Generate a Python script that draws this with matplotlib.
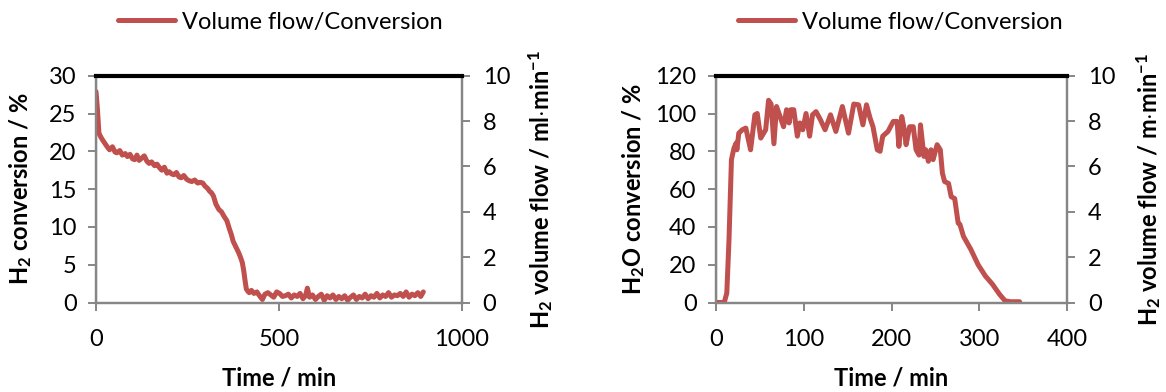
import matplotlib
matplotlib.use("Agg")
import matplotlib.pyplot as plt
from matplotlib.patches import Rectangle

plt.rcParams['font.family'] = ['Lato', 'DejaVu Sans']
plt.rcParams['mathtext.fontset'] = 'custom'
plt.rcParams['mathtext.rm'] = 'Lato'
plt.rcParams['mathtext.bf'] = 'Lato:bold'
plt.rcParams['mathtext.it'] = 'Lato:italic'

RED = '#C0504D'
GRAY = '#868686'

# ---------------- data: left panel (H2 conversion) ----------------
h2_time = [0, 4, 8, 13, 18, 25, 32, 37, 45, 52, 57, 65, 72, 80, 86, 93, 100, 106, 112, 118, 125,
           132, 139, 145, 152, 160, 167, 174, 180, 187, 194, 200, 207, 213, 220, 227, 233, 240,
           248, 255, 262, 270, 278, 285, 292, 298, 305, 311, 316, 321, 328, 336, 343, 350, 358,
           365, 370, 375, 382, 390, 395, 400, 404, 407, 411, 415, 419, 425, 432, 440, 447, 455,
           462, 470, 478, 486, 494, 502, 510, 518, 526, 534, 542, 550, 558, 566, 573, 578, 584,
           592, 600, 608, 616, 624, 632, 640, 648, 656, 664, 672, 680, 688, 696, 704, 712, 720,
           728, 736, 744, 752, 760, 768, 776, 784, 792, 800, 808, 816, 824, 832, 840, 848, 856,
           864, 872, 880, 888, 895]
h2_conv = [27.9, 25.5, 22.4, 21.9, 21.5, 21.0, 20.5, 20.2, 20.6, 19.9, 19.8, 20.1, 19.5, 19.7, 19.3,
           19.6, 19.0, 18.9, 19.5, 18.8, 19.1, 19.4, 18.7, 18.4, 18.6, 18.1, 18.3, 17.8, 17.5, 17.9,
           17.1, 17.3, 17.0, 16.9, 17.2, 16.6, 16.5, 16.8, 16.3, 16.1, 16.0, 16.2, 15.8, 15.9, 15.8,
           15.4, 15.1, 14.7, 14.5, 14.1, 13.0, 12.3, 12.0, 11.4, 10.8, 9.7, 9.0, 8.1, 7.4, 6.6, 6.0,
           5.3, 4.2, 3.1, 1.8, 1.5, 1.3, 1.6, 1.2, 1.4, 0.9, 0.4, 1.1, 1.3, 1.0, 0.7, 1.4, 1.2, 0.8,
           0.9, 1.1, 0.6, 1.0, 0.8, 1.2, 0.5, 0.9, 1.9, 0.7, 1.0, 0.4, 0.8, 1.1, 0.3, 0.9, 0.6, 1.0,
           0.4, 0.8, 0.5, 0.9, 0.3, 0.7, 1.0, 0.4, 0.8, 0.6, 1.1, 0.5, 0.9, 0.7, 1.2, 0.6, 1.0, 0.8,
           1.3, 0.7, 1.0, 0.9, 1.2, 0.8, 1.4, 0.7, 1.1, 0.9, 1.3, 0.8, 1.4]
h2_flow_time = [0, 1000]
h2_flow = [10, 10]

# ---------------- data: right panel (H2O conversion) ----------------
h2o_time = [0, 9.4, 12.3, 14.8, 17.6, 20.5, 23, 23.8, 26, 30, 34, 39.4, 44.3, 47, 51, 56.6, 59.9,
            62.8, 66, 69, 73, 77, 80.4, 83.3, 85.3, 88.6, 92.7, 95.6, 98.9, 102.6, 106.7, 110, 114,
            119, 124.3, 130.5, 136.6, 144, 151, 157, 162.5, 167.4, 171.5, 175.6, 178.9, 183.8, 187,
            190, 196, 202, 206.4, 208.4, 211.7, 214.6, 216.6, 220.7, 224.8, 228, 231.4, 233, 237,
            239, 242, 245, 247.4, 252, 255.6, 258, 260.5, 265, 268, 272, 276, 278, 282, 290.5,
            298.7, 307, 315, 323, 329.4, 335.6, 346]
h2o_conv = [0, 0, 5, 33, 75.6, 81.7, 84.4, 80.8, 89.6, 91.4, 92.3, 80.8, 99.3, 100, 87, 91.4, 107,
            105, 84, 103.7, 98.4, 93, 102, 95, 102, 102, 88, 95, 91.4, 100, 88, 99.3, 101, 96.7,
            91.4, 99.3, 90.5, 103.7, 89.6, 105, 104.6, 94, 104.6, 97.5, 93, 80.8, 80, 88, 90.5,
            95.8, 95.8, 82.6, 98.4, 91.4, 83.5, 93, 93, 80.8, 78, 94, 77.3, 80.8, 74.7, 80.8,
            75.6, 83.5, 80.8, 68.5, 64, 63, 56, 55, 42, 41.3, 35, 28, 20, 14, 9.7, 4.4, 0.9, 0.4, 0.4]
h2o_flow_time = [0, 400]
h2o_flow = [10, 10]

panels = [
    dict(t=h2_time, c=h2_conv, ft=h2_flow_time, f=h2_flow, xlim=(0, 1000), xt=[0, 500, 1000],
         ylim=(0, 30), yt=[0, 5, 10, 15, 20, 25, 30],
         ylabel=r'H$_\mathbf{2}$ conversion / %',
         y2label=r'H$_\mathbf{2}$ volume flow / ml$\cdot$min$^\mathbf{-1}$',
         pos=[96/1166, 1-302.5/392, 365.7/1166, 226.8/392], lpad=11, rpad=12),
    dict(t=h2o_time, c=h2o_conv, ft=h2o_flow_time, f=h2o_flow, xlim=(0, 400), xt=[0, 100, 200, 300, 400],
         ylim=(0, 120), yt=[0, 20, 40, 60, 80, 100, 120],
         ylabel=r'H$_\mathbf{2}$O conversion / %',
         y2label=r'H$_\mathbf{2}$ volume flow / m$\cdot$min$^\mathbf{-1}$',
         pos=[716/1166, 1-302.5/392, 351/1166, 226.8/392], lpad=6, rpad=14),
]

fig = plt.figure(figsize=(11.66, 3.92), dpi=100)
FS = 17
for p in panels:
    ax = fig.add_axes(p['pos'])
    ax2 = ax.twinx()
    line, = ax.plot(p['t'], p['c'], color=RED, lw=3.6, solid_capstyle='round',
                    solid_joinstyle='round', label='Volume flow/Conversion', zorder=3)
    ax2.plot(p['ft'], p['f'], color='black', lw=3, clip_on=False, zorder=4)
    ax.set_xlim(*p['xlim'])
    ax.set_ylim(*p['ylim'])
    ax2.set_ylim(0, 10)
    ax.set_xticks(p['xt'])
    ax.set_yticks(p['yt'])
    ax2.set_yticks([0, 2, 4, 6, 8, 10])
    for a in (ax, ax2):
        for s in a.spines.values():
            s.set_color(GRAY)
            s.set_linewidth(1.6)
        a.tick_params(direction='out', length=6, width=1.4, color=GRAY, labelsize=FS)
    ax.tick_params(axis='x', pad=13)
    ax.tick_params(axis='y', pad=8)
    ax2.tick_params(axis='y', pad=9)
    ax.add_patch(Rectangle((0, 0), 1, 1, transform=ax.transAxes, fill=False,
                           edgecolor='black', lw=0.8, zorder=2))
    ax.set_xlabel('Time / min', fontsize=FS, fontweight='bold', labelpad=12)
    ax.set_ylabel(p['ylabel'], fontsize=FS, fontweight='bold', labelpad=p['lpad'])
    ax2.set_ylabel(p['y2label'], fontsize=FS, fontweight='bold', labelpad=p['rpad'])
    x0 = p['pos'][0] + 22/1166
    ax.legend(handles=[line], loc='center left', bbox_to_anchor=(x0, 1-22/392),
              bbox_transform=fig.transFigure, frameon=False, fontsize=FS,
              handlelength=2.4, handletextpad=0.3, borderpad=0, borderaxespad=0)

fig.savefig('out.png', dpi=100)
